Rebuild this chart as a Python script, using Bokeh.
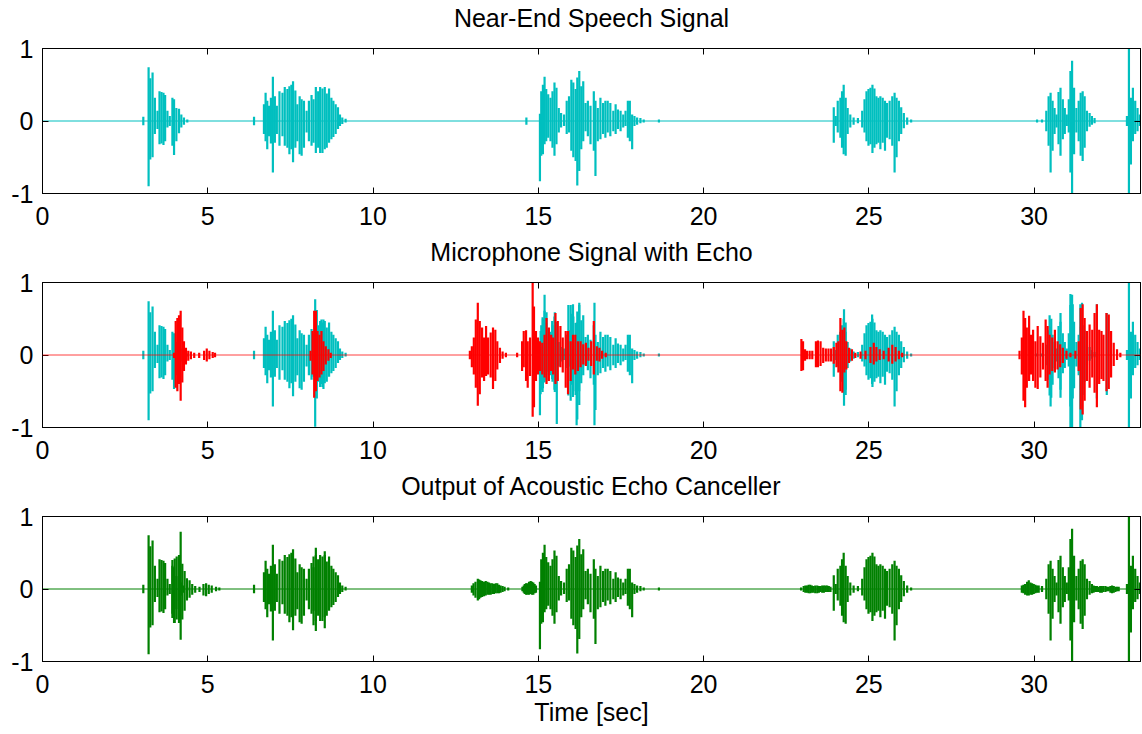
from bokeh.plotting import figure
from bokeh.layouts import column
from bokeh.models import Span, LinearAxis, FixedTicker, Range1d
from bokeh.embed import file_html
from bokeh.resources import INLINE

# ---------------- data ----------------
T_END = 33.22
x_ticks = [0, 5, 10, 15, 20, 25, 30]
y_ticks = [-1, 0, 1]
y_tick_text = {-1: "-1", 0: "0", 1: "1"}
titles = ["Near-End Speech Signal", "Microphone Signal with Echo",
          "Output of Acoustic Echo Canceller"]
x_label = "Time [sec]"

# near-end speech: peak times (s), positive peaks, negative peaks
near_t = [3.05, 3.21, 3.26, 3.33, 3.40, 3.48, 3.54, 3.60, 3.66, 3.71, 3.78, 3.85, 3.93, 3.98, 4.05, 4.13, 4.20, 4.28, 4.38,
          6.40, 6.70, 6.75, 6.80, 6.85, 6.91, 6.97, 7.03, 7.09, 7.17, 7.26, 7.33, 7.41, 7.47, 7.53, 7.58, 7.65, 7.71, 7.78,
          7.84, 7.91, 7.99, 8.06, 8.14, 8.20, 8.27, 8.34, 8.40, 8.47, 8.54, 8.60, 8.67, 8.74, 8.80, 8.87, 8.94, 9.00, 9.07, 9.17,
          14.64, 15.05, 15.09, 15.14, 15.19, 15.24, 15.30, 15.37, 15.43, 15.49, 15.55, 15.62, 15.69, 15.78, 15.86, 15.93,
          16.00, 16.06, 16.13, 16.18, 16.24, 16.30, 16.36, 16.43, 16.50, 16.58, 16.68, 16.73, 16.80, 16.88, 16.96, 17.03,
          17.10, 17.18, 17.27, 17.34, 17.41, 17.49, 17.57, 17.64, 17.71, 17.77, 17.84, 17.91, 17.99, 18.09, 18.19, 18.65,
          23.94, 24.00, 24.06, 24.14, 24.19, 24.24, 24.30, 24.36, 24.44, 24.54, 24.67, 24.80, 24.87, 24.93, 24.99, 25.05,
          25.11, 25.17, 25.23, 25.29, 25.35, 25.42, 25.49, 25.55, 25.63, 25.71, 25.78, 25.84, 25.91, 25.98, 26.06, 26.16, 26.28,
          30.09, 30.24, 30.37, 30.44, 30.50, 30.56, 30.62, 30.68, 30.74, 30.80, 30.87, 30.93, 30.99, 31.05, 31.10, 31.15,
          31.21, 31.28, 31.35, 31.41, 31.47, 31.53, 31.60, 31.68, 31.75, 31.83,
          32.81, 32.87, 32.93, 32.99, 33.06, 33.13, 33.20]
near_hi = [0.06, 0.74, 0.59, 0.67, 0.32, 0.14, 0.41, 0.40, 0.39, 0.36, 0.14, 0.07, 0.32, 0.30, 0.18, 0.17, 0.09, 0.05, 0.02,
           0.06, 0.23, 0.39, 0.28, 0.21, 0.32, 0.61, 0.34, 0.21, 0.41, 0.39, 0.47, 0.44, 0.48, 0.50, 0.55, 0.42, 0.23, 0.34,
           0.30, 0.28, 0.14, 0.28, 0.36, 0.30, 0.47, 0.41, 0.47, 0.45, 0.47, 0.38, 0.45, 0.32, 0.28, 0.23, 0.19, 0.09, 0.05, 0.03,
           0.05, 0.10, 0.41, 0.50, 0.61, 0.44, 0.37, 0.32, 0.41, 0.53, 0.46, 0.18, 0.11, 0.09, 0.28, 0.34,
           0.57, 0.53, 0.44, 0.60, 0.69, 0.48, 0.55, 0.25, 0.28, 0.21, 0.41, 0.28, 0.18, 0.32, 0.25, 0.28,
           0.28, 0.25, 0.14, 0.23, 0.16, 0.14, 0.09, 0.14, 0.28, 0.28, 0.09, 0.07, 0.05, 0.04, 0.02, 0.02,
           0.19, 0.07, 0.28, 0.32, 0.41, 0.50, 0.32, 0.18, 0.09, 0.05, 0.04, 0.14, 0.30, 0.41, 0.44, 0.46,
           0.50, 0.45, 0.34, 0.32, 0.34, 0.32, 0.28, 0.25, 0.28, 0.34, 0.39, 0.32, 0.28, 0.19, 0.11, 0.05, 0.02,
           0.02, 0.02, 0.14, 0.34, 0.39, 0.28, 0.18, 0.09, 0.40, 0.46, 0.30, 0.18, 0.09, 0.30, 0.69, 0.83,
           0.46, 0.18, 0.28, 0.39, 0.41, 0.34, 0.14, 0.11, 0.07, 0.04,
           0.07, 1.00, 0.32, 0.46, 0.28, 0.18, 0.09]
near_lo = [-0.06, -0.90, -0.53, -0.50, -0.18, -0.11, -0.32, -0.31, -0.33, -0.28, -0.09, -0.07, -0.34, -0.47, -0.28, -0.17, -0.09, -0.05, -0.02,
           -0.06, -0.18, -0.28, -0.39, -0.21, -0.31, -0.71, -0.30, -0.18, -0.34, -0.21, -0.34, -0.37, -0.46, -0.39, -0.57, -0.37, -0.28, -0.46,
           -0.48, -0.37, -0.16, -0.28, -0.34, -0.30, -0.44, -0.37, -0.44, -0.44, -0.39, -0.37, -0.30, -0.25, -0.22, -0.18, -0.11, -0.07, -0.04, -0.02,
           -0.05, -0.83, -0.48, -0.46, -0.32, -0.28, -0.23, -0.28, -0.37, -0.48, -0.32, -0.16, -0.09, -0.07, -0.18, -0.16,
           -0.41, -0.50, -0.55, -0.89, -0.69, -0.39, -0.28, -0.14, -0.21, -0.32, -0.41, -0.76, -0.28, -0.25, -0.18, -0.23,
           -0.16, -0.21, -0.14, -0.18, -0.11, -0.14, -0.09, -0.07, -0.23, -0.28, -0.39, -0.07, -0.05, -0.03, -0.02, -0.02,
           -0.30, -0.07, -0.16, -0.23, -0.37, -0.46, -0.48, -0.18, -0.09, -0.05, -0.03, -0.09, -0.16, -0.28, -0.34, -0.32,
           -0.44, -0.37, -0.32, -0.30, -0.39, -0.30, -0.41, -0.23, -0.25, -0.34, -0.71, -0.50, -0.28, -0.18, -0.10, -0.05, -0.02,
           -0.02, -0.02, -0.14, -0.34, -0.71, -0.41, -0.18, -0.09, -0.32, -0.48, -0.25, -0.18, -0.07, -0.16, -0.71, -1.00,
           -0.46, -0.16, -0.28, -0.48, -0.55, -0.37, -0.14, -0.08, -0.05, -0.03,
           -0.07, -1.00, -0.60, -0.28, -0.18, -0.14, -0.07]

# microphone signal: extra peaks where it exceeds the near-end speech
mic_extra_t = [8.25, 8.30, 8.44, 8.50,
               15.07, 15.13, 15.19, 15.25, 15.42, 15.50, 15.56, 15.91, 15.98, 16.05, 16.16, 16.24, 16.70,
               24.25, 24.30, 25.10,
               30.47, 30.52, 30.80, 31.10, 31.17, 31.40, 31.45, 31.90, 32.20]
mic_extra_hi = [0.77, 0.62, 0.49, 0.49,
                0.33, 0.52, 0.83, 0.59, 0.47, 0.59, 0.45, 0.69, 0.69, 0.70, 0.45, 0.72, 0.72,
                0.63, 0.45, 0.56,
                0.55, 0.50, 0.58, 0.84, 0.70, 0.70, 0.72, 0.70, 0.58]
mic_extra_lo = [-0.99, -0.60, -0.40, -0.47,
                -0.54, -0.51, -0.38, -0.35, -0.33, -0.51, -0.95, -0.56, -0.63, -0.58, -0.97, -0.50, -0.97,
                -0.70, -0.55, -0.40,
                -0.56, -0.59, -0.59, -1.00, -0.60, -1.00, -0.90, -0.60, -0.55]

# echo (red) in the microphone signal
echo_t = [3.98, 4.03, 4.08, 4.13, 4.18, 4.23, 4.28, 4.34, 4.41, 4.49, 4.59, 4.74, 4.89, 4.97, 5.05, 5.15, 5.22,
          8.11, 8.17, 8.22, 8.27, 8.32, 8.38, 8.44, 8.50, 8.57, 8.65, 8.72,
          12.93, 12.99, 13.05, 13.11, 13.17, 13.23, 13.30, 13.36, 13.42, 13.48, 13.56, 13.63, 13.70, 13.76, 13.84, 13.92, 14.02,
          14.36, 14.51, 14.56, 14.63, 14.68, 14.75, 14.83, 14.87, 14.93, 14.99, 15.05, 15.12, 15.19, 15.25, 15.32, 15.39,
          15.45, 15.52, 15.59, 15.67, 15.74, 15.83, 15.90, 15.98, 16.05, 16.12, 16.20, 16.28, 16.36, 16.44, 16.52, 16.60,
          16.68, 16.77, 16.85, 16.93, 17.04,
          22.96, 23.01, 23.07, 23.13, 23.21, 23.29, 23.40, 23.46, 23.54, 23.62, 23.70, 23.78, 23.86, 23.94, 24.02, 24.08,
          24.14, 24.20, 24.26, 24.32, 24.40, 24.49, 24.59, 24.75, 24.90, 25.05, 25.15, 25.23, 25.33, 25.45, 25.60, 25.71,
          25.81, 25.91, 26.01,
          29.56, 29.63, 29.68, 29.73, 29.78, 29.85, 29.91, 29.97, 30.04, 30.11, 30.19, 30.27, 30.35, 30.41, 30.47, 30.55,
          30.63, 30.71, 30.79, 30.87, 30.98, 31.10, 31.25, 31.35, 31.41, 31.47, 31.53, 31.60, 31.68, 31.76, 31.83, 31.90,
          31.97, 32.04, 32.10, 32.19, 32.26, 32.33, 32.41, 32.51, 32.61]
echo_hi = [0.03, 0.47, 0.51, 0.55, 0.61, 0.38, 0.19, 0.10, 0.06, 0.05, 0.03, 0.03, 0.06, 0.09, 0.06, 0.04, 0.03,
           0.06, 0.33, 0.61, 0.61, 0.33, 0.28, 0.33, 0.19, 0.12, 0.08, 0.03,
           0.06, 0.12, 0.24, 0.49, 0.72, 0.47, 0.38, 0.24, 0.40, 0.24, 0.31, 0.38, 0.35, 0.19, 0.10, 0.05, 0.03,
           0.03, 0.19, 0.33, 0.34, 0.19, 0.24, 1.00, 0.67, 0.33, 0.24, 0.19, 0.17, 0.28, 0.51, 0.38, 0.28,
           0.24, 0.58, 0.47, 0.40, 0.24, 0.33, 0.33, 0.19, 0.28, 0.28, 0.19, 0.19, 0.15, 0.17, 0.10, 0.19,
           0.47, 0.12, 0.10, 0.06, 0.03,
           0.22, 0.19, 0.08, 0.06, 0.06, 0.06, 0.19, 0.20, 0.19, 0.10, 0.09, 0.09, 0.09, 0.11, 0.17, 0.19,
           0.51, 0.35, 0.38, 0.19, 0.10, 0.08, 0.03, 0.05, 0.06, 0.11, 0.17, 0.11, 0.08, 0.06, 0.10, 0.14,
           0.11, 0.06, 0.03,
           0.06, 0.24, 0.61, 0.51, 0.38, 0.54, 0.28, 0.35, 0.19, 0.40, 0.26, 0.17, 0.49, 0.40, 0.28, 0.24,
           0.35, 0.19, 0.15, 0.10, 0.06, 0.03, 0.06, 0.19, 0.65, 0.70, 0.51, 0.33, 0.42, 0.35, 0.58, 0.70,
           0.35, 0.33, 0.28, 0.58, 0.56, 0.33, 0.17, 0.08, 0.03]
echo_lo = [-0.04, -0.45, -0.50, -0.40, -0.63, -0.38, -0.22, -0.13, -0.08, -0.06, -0.04, -0.04, -0.07, -0.09, -0.06, -0.04, -0.03,
           -0.08, -0.27, -0.59, -0.50, -0.36, -0.31, -0.27, -0.22, -0.13, -0.08, -0.04,
           -0.06, -0.17, -0.27, -0.45, -0.70, -0.54, -0.31, -0.36, -0.29, -0.27, -0.31, -0.47, -0.36, -0.20, -0.11, -0.05, -0.03,
           -0.03, -0.22, -0.17, -0.36, -0.45, -0.29, -0.85, -0.72, -0.36, -0.27, -0.22, -0.27, -0.31, -0.40, -0.36, -0.22,
           -0.27, -0.40, -0.36, -0.17, -0.24, -0.45, -0.54, -0.36, -0.20, -0.27, -0.22, -0.17, -0.13, -0.15, -0.08, -0.15,
           -0.27, -0.08, -0.09, -0.05, -0.03,
           -0.22, -0.21, -0.08, -0.06, -0.06, -0.06, -0.17, -0.17, -0.15, -0.11, -0.09, -0.09, -0.09, -0.12, -0.17, -0.24,
           -0.50, -0.52, -0.24, -0.20, -0.11, -0.08, -0.04, -0.05, -0.06, -0.11, -0.13, -0.09, -0.07, -0.06, -0.09, -0.12,
           -0.09, -0.06, -0.03,
           -0.06, -0.27, -0.63, -0.72, -0.45, -0.36, -0.27, -0.36, -0.45, -0.47, -0.31, -0.20, -0.36, -0.45, -0.27, -0.22,
           -0.24, -0.20, -0.17, -0.11, -0.05, -0.03, -0.05, -0.22, -0.75, -0.82, -0.63, -0.36, -0.45, -0.31, -0.52, -0.72,
           -0.40, -0.33, -0.36, -0.50, -0.47, -0.31, -0.15, -0.07, -0.03]

# canceller output: residual peaks on top of the near-end speech
resid_t = [3.93, 4.00, 4.06, 4.13, 4.18, 4.23, 4.30, 4.37, 4.45, 4.53, 4.62, 4.75, 4.87, 4.95, 5.03, 5.12, 5.25, 5.35,
           8.20, 8.27, 8.54,
           12.99, 13.04, 13.10, 13.17, 13.21, 13.25, 13.30, 13.36, 13.41, 13.46, 13.51, 13.56, 13.61, 13.66, 13.71, 13.76,
           13.81, 13.86, 13.92, 13.98, 14.09,
           14.52, 14.56, 14.59, 14.63, 14.67, 14.72, 14.77, 14.81, 14.85, 14.89, 14.93,
           22.95, 23.03, 23.08, 23.13, 23.18, 23.23, 23.28, 23.33, 23.38, 23.44, 23.49, 23.54, 23.59, 23.64, 23.69, 23.74, 23.79, 23.84,
           29.63, 29.68, 29.73, 29.79, 29.84, 29.89, 29.94, 29.99, 30.04, 30.09, 30.14, 30.24,
           31.75, 31.80, 31.85, 31.90, 31.95, 32.00, 32.05, 32.10, 32.16, 32.21, 32.26, 32.31, 32.36, 32.41, 32.46, 32.51, 32.56]
resid_hi = [0.40, 0.42, 0.45, 0.47, 0.79, 0.35, 0.25, 0.15, 0.12, 0.07, 0.04, 0.03, 0.07, 0.08, 0.06, 0.05, 0.03, 0.02,
            0.45, 0.57, 0.52,
            0.05, 0.08, 0.10, 0.14, 0.13, 0.12, 0.11, 0.10, 0.11, 0.10, 0.09, 0.08, 0.08, 0.07, 0.08, 0.08,
            0.06, 0.05, 0.04, 0.03, 0.02,
            0.03, 0.05, 0.07, 0.08, 0.08, 0.10, 0.11, 0.10, 0.09, 0.07, 0.05,
            0.02, 0.04, 0.05, 0.05, 0.06, 0.06, 0.05, 0.04, 0.05, 0.05, 0.04, 0.04, 0.05, 0.05, 0.05, 0.05, 0.04, 0.03,
            0.05, 0.06, 0.07, 0.10, 0.12, 0.09, 0.08, 0.07, 0.06, 0.05, 0.05, 0.04,
            0.05, 0.05, 0.04, 0.04, 0.03, 0.04, 0.04, 0.04, 0.04, 0.03, 0.03, 0.04, 0.05, 0.04, 0.03, 0.03, 0.03]
resid_lo = [-0.40, -0.47, -0.42, -0.47, -0.70, -0.42, -0.30, -0.16, -0.12, -0.08, -0.05, -0.04, -0.09, -0.10, -0.07, -0.05, -0.03, -0.02,
            -0.50, -0.58, -0.54,
            -0.05, -0.09, -0.12, -0.16, -0.14, -0.12, -0.11, -0.10, -0.09, -0.08, -0.08, -0.08, -0.07, -0.07, -0.06, -0.06,
            -0.06, -0.05, -0.04, -0.03, -0.02,
            -0.03, -0.05, -0.07, -0.08, -0.08, -0.08, -0.07, -0.08, -0.08, -0.06, -0.05,
            -0.02, -0.04, -0.05, -0.05, -0.06, -0.06, -0.05, -0.05, -0.06, -0.06, -0.05, -0.04, -0.05, -0.05, -0.04, -0.04, -0.04, -0.04,
            -0.05, -0.06, -0.08, -0.09, -0.09, -0.08, -0.08, -0.07, -0.06, -0.05, -0.05, -0.04,
            -0.06, -0.05, -0.04, -0.04, -0.04, -0.05, -0.05, -0.04, -0.04, -0.03, -0.03, -0.05, -0.06, -0.05, -0.04, -0.03, -0.03]

# ---------------- styling ----------------
CYAN = "#00BFBF"
RED = "#FF0000"
GREEN = "#008000"
FONT = "Liberation Sans"
FS = "25px"
LW = 2.2
FRAME_W, FRAME_H = 1098, 145


def style_axis(ax, show_labels, standoff=9):
    ax.major_tick_in = 6
    ax.major_tick_out = 0
    ax.minor_tick_line_color = None
    ax.axis_line_color = "black"
    ax.major_tick_line_color = "black"
    ax.major_label_text_font = FONT
    if show_labels:
        ax.major_label_text_color = "black"
        ax.major_label_text_font_size = FS
        ax.major_label_standoff = standoff
    else:
        ax.major_label_text_color = None
        ax.major_label_text_font_size = "1px"
        ax.major_label_standoff = standoff


def panel(title, bottom_border, with_xlabel):
    p = figure(width=1142, height=48 + FRAME_H + bottom_border,
               frame_width=FRAME_W, frame_height=FRAME_H,
               x_range=Range1d(0, T_END), y_range=Range1d(-1, 1),
               output_backend="svg", toolbar_location=None,
               min_border_left=42, min_border_right=2,
               min_border_top=48, min_border_bottom=bottom_border)
    p.grid.visible = False
    p.outline_line_color = "black"
    p.background_fill_color = "white"
    p.border_fill_color = "white"
    p.title.text = title
    p.title.align = "center"
    p.title.text_font = FONT
    p.title.text_font_size = FS
    p.title.text_font_style = "normal"
    p.title.text_color = "black"
    p.title.standoff = 0

    xb = p.xaxis[0]
    yl = p.yaxis[0]
    xb.ticker = FixedTicker(ticks=x_ticks)
    yl.ticker = FixedTicker(ticks=y_ticks)
    yl.major_label_overrides = y_tick_text
    style_axis(xb, True, 13)
    style_axis(yl, True, 9)

    if with_xlabel:
        xb.axis_label = x_label
        xb.axis_label_text_font = FONT
        xb.axis_label_text_font_size = FS
        xb.axis_label_text_font_style = "normal"
        xb.axis_label_text_color = "black"
        xb.axis_label_standoff = 2

    # top axis: inward ticks only
    top = LinearAxis(ticker=FixedTicker(ticks=x_ticks))
    style_axis(top, False, 0)
    p.add_layout(top, "above")
    # invisible spacer axis that lifts the title off the frame
    spacer = LinearAxis(ticker=FixedTicker(ticks=x_ticks))
    style_axis(spacer, False, 0)
    spacer.major_tick_in = 0
    spacer.major_tick_out = 17
    spacer.major_tick_line_color = None
    spacer.axis_line_color = None
    p.add_layout(spacer, "above")

    right = LinearAxis(ticker=FixedTicker(ticks=y_ticks))
    style_axis(right, False, 0)
    p.add_layout(right, "right")
    return p


p1 = panel(titles[0], 41, False)
p1.add_layout(Span(location=0, dimension="width", line_color=CYAN, line_width=1, level="underlay"))
p1.segment(x0=near_t, y0=near_lo, x1=near_t, y1=near_hi, line_color=CYAN, line_width=LW)

p2 = panel(titles[1], 41, False)
p2.segment(x0=near_t, y0=near_lo, x1=near_t, y1=near_hi, line_color=CYAN, line_width=LW)
p2.segment(x0=mic_extra_t, y0=mic_extra_lo, x1=mic_extra_t, y1=mic_extra_hi, line_color=CYAN, line_width=LW)
p2.segment(x0=echo_t, y0=echo_lo, x1=echo_t, y1=echo_hi, line_color=RED, line_width=LW)
p2.add_layout(Span(location=0, dimension="width", line_color=RED, line_width=1, line_alpha=0.75))

p3 = panel(titles[2], 73, True)
p3.add_layout(Span(location=0, dimension="width", line_color=GREEN, line_width=1, level="underlay"))
p3.segment(x0=near_t, y0=near_lo, x1=near_t, y1=near_hi, line_color=GREEN, line_width=LW)
p3.segment(x0=resid_t, y0=resid_lo, x1=resid_t, y1=resid_hi, line_color=GREEN, line_width=LW)

layout = column(p1, p2, p3, spacing=0)

open("out.html", "w").write(file_html(layout, INLINE))
